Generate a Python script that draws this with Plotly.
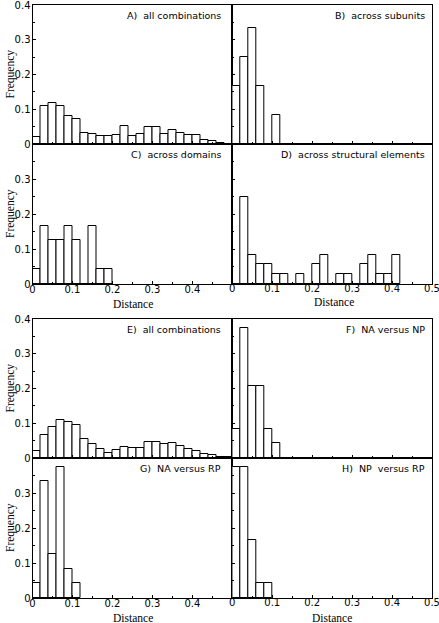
import plotly.graph_objects as go

# bin centres (bin width 0.02)
bins_A = [0.01 + 0.02 * i for i in range(24)]
freq_A = [0.020, 0.109, 0.117, 0.109, 0.080, 0.071, 0.033, 0.030, 0.022, 0.022, 0.026, 0.051,
          0.022, 0.030, 0.048, 0.048, 0.030, 0.040, 0.033, 0.026, 0.026, 0.011, 0.008, 0.004]
bins_B = [0.01, 0.03, 0.05, 0.07, 0.09, 0.11]
freq_B = [0.167, 0.250, 0.333, 0.167, 0.0, 0.083]
bins_C = [0.01, 0.03, 0.05, 0.07, 0.09, 0.11, 0.13, 0.15, 0.17, 0.19]
freq_C = [0.042, 0.167, 0.125, 0.125, 0.167, 0.125, 0.0, 0.167, 0.042, 0.042]
bins_D = [0.01 + 0.02 * i for i in range(21)]
freq_D = [0.0, 0.250, 0.083, 0.056, 0.056, 0.028, 0.028, 0.0, 0.028, 0.0, 0.056, 0.083,
          0.0, 0.028, 0.028, 0.0, 0.056, 0.083, 0.028, 0.028, 0.083]
bins_E = [0.01 + 0.02 * i for i in range(25)]
freq_E = [0.020, 0.067, 0.090, 0.109, 0.103, 0.095, 0.056, 0.040, 0.026, 0.014, 0.022, 0.031,
          0.029, 0.029, 0.047, 0.046, 0.041, 0.043, 0.034, 0.026, 0.020, 0.011, 0.008, 0.004, 0.002]
bins_F = [0.01, 0.03, 0.05, 0.07, 0.09, 0.11]
freq_F = [0.083, 0.375, 0.208, 0.208, 0.083, 0.042]
bins_G = [0.01, 0.03, 0.05, 0.07, 0.09, 0.11]
freq_G = [0.042, 0.333, 0.125, 0.375, 0.083, 0.042]
bins_H = [0.01, 0.03, 0.05, 0.07, 0.09]
freq_H = [0.375, 0.375, 0.167, 0.042, 0.042]

labels = ["A)\u00a0 all combinations", "B)\u00a0 across subunits", "C)\u00a0 across domains",
          "D)\u00a0 across structural elements", "E)\u00a0 all combinations", "F)\u00a0 NA versus NP",
          "G)\u00a0 NA versus RP", "H)\u00a0 NP\u00a0 versus RP"]
panels = [(bins_A, freq_A), (bins_B, freq_B), (bins_C, freq_C), (bins_D, freq_D),
          (bins_E, freq_E), (bins_F, freq_F), (bins_G, freq_G), (bins_H, freq_H)]

y_ticks_top = [0, 0.1, 0.2, 0.3, 0.4]
y_ticks_low = [0, 0.1, 0.2, 0.3]
x_ticks_left = [0, 0.1, 0.2, 0.3, 0.4]
x_ticks_right = [0, 0.1, 0.2, 0.3, 0.4, 0.5]

W, H = 439, 623
def fx(p): return p / W
def fy(p): return 1 - p / H

xcols = [(32.5, 232.3), (232.3, 432.0)]
yrows = [(5, 144), (144, 284), (319, 458), (458, 598)]

def fmt(v):
    return "0" if v == 0 else ("%g" % v)

TICKFONT = dict(family="DejaVu Sans", size=10, color="black")
SERIF = dict(family="Liberation Serif", size=11.5, color="black")
LABFONT = dict(family="DejaVu Sans", size=9.5, color="black")

fig = go.Figure()
layout = {}
annotations = []
for i, ((bx, by), lab) in enumerate(zip(panels, labels)):
    r, c = divmod(i, 2)
    n = i + 1
    xa = "x" if n == 1 else f"x{n}"
    ya = "y" if n == 1 else f"y{n}"
    fig.add_trace(go.Bar(x=bx, y=by, width=0.02, xaxis=xa, yaxis=ya,
                         marker=dict(color="white", line=dict(color="black", width=1)),
                         showlegend=False, hoverinfo="x+y"))
    bottom = r in (1, 3)
    top_row = r in (0, 2)
    xt = x_ticks_left if c == 0 else x_ticks_right
    yt = y_ticks_top if top_row else y_ticks_low
    xkey = "xaxis" if n == 1 else f"xaxis{n}"
    ykey = "yaxis" if n == 1 else f"yaxis{n}"
    layout[xkey] = dict(domain=[fx(xcols[c][0]), fx(xcols[c][1])], anchor=ya, range=[0, 0.5],
                        showline=True, mirror=True, linecolor="black", linewidth=1,
                        ticks="inside", ticklen=3, tickwidth=1, tickcolor="black",
                        tickvals=xt, ticktext=[fmt(v) for v in xt], showticklabels=bottom,
                        ticklabelstandoff=(-4 if c == 0 else -5), ticklabeloverflow="allow",
                        minor=dict(tickvals=[0.05, 0.15, 0.25, 0.35, 0.45], ticks="inside",
                                   ticklen=2, tickcolor="black"),
                        showgrid=False, zeroline=False, tickfont=TICKFONT, fixedrange=True,
                        automargin=False)
    layout[ykey] = dict(domain=[fy(yrows[r][1]), fy(yrows[r][0])], anchor=xa, range=[0, 0.4],
                        showline=True, mirror=True, linecolor="black", linewidth=1,
                        ticks="inside", ticklen=3, tickwidth=1, tickcolor="black",
                        tickvals=yt, ticktext=[fmt(v) for v in yt], showticklabels=(c == 0),
                        ticklabelstandoff=-1, ticklabeloverflow="allow",
                        minor=dict(tickvals=[0.05, 0.15, 0.25, 0.35], ticks="inside",
                                   ticklen=2, tickcolor="black"),
                        showgrid=False, zeroline=False, tickfont=TICKFONT, fixedrange=True,
                        automargin=False)
    # panel label
    lx = 222.5 if c == 0 else 427
    ly = yrows[r][0] + 10.5
    annotations.append(dict(text=lab, x=fx(lx), y=fy(ly), xref="paper", yref="paper",
                            xanchor="right", yanchor="middle", showarrow=False, font=LABFONT))
    if c == 0:
        annotations.append(dict(text="Frequency", x=fx(10), y=fy((yrows[r][0] + yrows[r][1]) / 2),
                                xref="paper", yref="paper", textangle=-90, showarrow=False,
                                xanchor="center", yanchor="middle", font=SERIF))

for (xc, yc) in [(132.5, 304), (334, 301.5), (132.5, 618), (332, 617.5)]:
    annotations.append(dict(text="Distance", x=fx(xc), y=fy(yc), xref="paper", yref="paper",
                            showarrow=False, xanchor="center", yanchor="middle", font=SERIF))

fig.update_layout(template="none", width=W, height=H, margin=dict(l=0, r=0, t=0, b=0, pad=0),
                  paper_bgcolor="white", plot_bgcolor="white", bargap=0,
                  annotations=annotations, **layout)
# the page's default 8px body margin would shift the figure inside the 439x623 window
fig.write_html("out.html", config={"displayModeBar": False},
               post_script="document.body.style.margin='0px';")
